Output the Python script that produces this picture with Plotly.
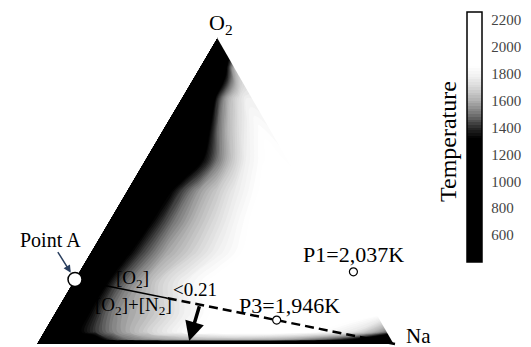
import numpy as np
import plotly.graph_objects as go

# ---------------- data ----------------
# carpet coordinates: a = Na/(Na+N2) across each row, b = O2 mole fraction
A_REL = [0, 0.05, 0.1, 0.15, 0.2, 0.25, 0.3, 0.4, 0.5, 0.6, 0.7, 0.8, 0.9, 1.0]
B_O2 = [0, 0.015, 0.04, 0.1, 0.2, 0.3, 0.4, 0.5, 0.6, 0.7, 0.8, 0.9, 1.0]
# adiabatic temperature (K), rows follow B_O2, columns follow A_REL
TEMP = [
    [600, 600, 620, 650, 700, 720, 740, 760, 760, 760, 740, 720, 680, 600],
    [600, 700, 900, 1200, 1400, 1500, 1550, 1600, 1620, 1620, 1580, 1480, 1300, 900],
    [650, 900, 1300, 1420, 1520, 1600, 1680, 1820, 1900, 1920, 1900, 1850, 1750, 1500],
    [650, 900, 1300, 1450, 1550, 1600, 1650, 1780, 1880, 1950, 1980, 1980, 1950, 1900],
    [650, 900, 1250, 1420, 1520, 1600, 1680, 1800, 1890, 1960, 2000, 2020, 2030, 2040],
    [650, 800, 1050, 1300, 1420, 1500, 1580, 1680, 1780, 1860, 1950, 2000, 2020, 2020],
    [650, 750, 950, 1150, 1320, 1420, 1500, 1620, 1720, 1820, 1900, 1950, 1950, 1920],
    [650, 700, 800, 950, 1150, 1320, 1420, 1560, 1660, 1760, 1840, 1900, 1900, 1880],
    [650, 680, 720, 800, 900, 1000, 1150, 1320, 1500, 1650, 1780, 1850, 1880, 1850],
    [650, 680, 700, 750, 820, 900, 1000, 1250, 1480, 1620, 1720, 1800, 1850, 1820],
    [650, 650, 680, 700, 750, 820, 900, 1150, 1400, 1550, 1650, 1720, 1780, 1780],
    [650, 650, 650, 680, 700, 720, 750, 850, 950, 1100, 1250, 1400, 1550, 1650],
    [650, 650, 650, 650, 650, 650, 650, 650, 650, 650, 650, 650, 650, 650],
]
CBAR_TICKS = [600, 800, 1000, 1200, 1400, 1600, 1800, 2000, 2200]
CBAR_TEXT = ["600", "800", "1000", "1200", "1400", "1600", "1800", "2000", "2200"]

# compositions (Na, O2) of marked points
AIR_LINE_NA = [0.0, 0.29, 1.0]      # Point A (air) -> Na corner
AIR_RATIO = 0.21                    # [O2]/([O2]+[N2]) of air
POINT_A = (0.0, 0.21)
P1 = (0.765, 0.235)
P3 = (0.63, 0.078)
EDGE_NA = [1.0, 0.0]                # Na-O2 edge (no N2)
EDGE_O2 = [0.0, 1.0]

APEX_X = 0.5056  # horizontal position of the O2 corner along the N2-Na base


def to_xy(na, o2):
    na = np.asarray(na, float)
    o2 = np.asarray(o2, float)
    return na + APEX_X * o2, o2


# carpet grid positions
A = np.array(A_REL)
B = np.array(B_O2)
AA, BB = np.meshgrid(A, B)
GX, GY = to_xy(AA * (1 - BB), BB)

SERIF = "Liberation Serif, Times New Roman, serif"
ZMIN, ZMAX = 400, 2260


def pos(t):
    return (t - ZMIN) / (ZMAX - ZMIN)


cscale = [
    [0.0, "#000000"], [pos(1320), "#000000"], [pos(1400), "#2a2a2a"],
    [pos(1500), "#767676"], [pos(1600), "#b0b0b0"], [pos(1700), "#d8d8d8"],
    [pos(1780), "#f0f0f0"], [pos(1840), "#fcfcfc"], [pos(1860), "#ffffff"], [1.0, "#ffffff"],
]

fig = go.Figure()

NONE = "rgba(0,0,0,0)"
hidden_axis = dict(showgrid=False, showline=False, showticklabels="none",
                   startline=False, endline=False, minorgridcount=0,
                   smoothing=0, gridwidth=0, linewidth=0,
                   gridcolor=NONE, linecolor=NONE,
                   startlinecolor=NONE, endlinecolor=NONE,
                   startlinewidth=0, endlinewidth=0)
fig.add_trace(go.Carpet(a=A_REL, b=B_O2, x=GX.tolist(), y=GY.tolist(), carpet="c1",
                        color=NONE, aaxis=hidden_axis, baxis=hidden_axis))
fig.add_trace(go.Contourcarpet(
    carpet="c1", a=A_REL, b=B_O2, z=TEMP,
    colorscale=cscale, zmin=ZMIN, zmax=ZMAX, autocontour=False,
    contours=dict(start=ZMIN, end=ZMAX, size=20, coloring="fill", showlines=False),
    line=dict(width=0, color=NONE),
    colorbar=dict(
        xref="container", yref="container", x=467 / 531, xanchor="left",
        y=1 - 137 / 347, yanchor="middle", lenmode="pixels", len=250,
        thickness=15, xpad=0, ypad=0, outlinecolor="black", outlinewidth=1.5,
        tickmode="array", tickvals=CBAR_TICKS, ticktext=CBAR_TEXT,
        ticks="outside", ticklen=6, tickcolor=NONE,
        tickfont=dict(family=SERIF, size=15, color="#444"),
    ),
))

# the Na-O2 edge is not drawn in the original: hide the anti-aliasing seam
ex, ey = to_xy(EDGE_NA, EDGE_O2)
fig.add_trace(go.Scatter(x=ex, y=ey, mode="lines", line=dict(color="white", width=2.5),
                         hoverinfo="skip"))

# air line: solid part under the fraction, dashed to Na corner
lx, ly = to_xy(AIR_LINE_NA, [AIR_RATIO * (1 - n) for n in AIR_LINE_NA])
fig.add_trace(go.Scatter(x=lx[:2], y=ly[:2], mode="lines",
                         line=dict(color="black", width=1.5), hoverinfo="skip"))
fig.add_trace(go.Scatter(x=lx[1:], y=ly[1:], mode="lines",
                         line=dict(color="black", width=2.5, dash="9px,5px"), hoverinfo="skip"))

ax_, ay_ = to_xy(*POINT_A)
p1x, p1y = to_xy(*P1)
p3x, p3y = to_xy(*P3)
fig.add_trace(go.Scatter(x=[float(ax_)], y=[float(ay_)], mode="markers",
                         marker=dict(size=14, color="white", line=dict(color="black", width=1.5))))
fig.add_trace(go.Scatter(x=[float(p1x), float(p3x)], y=[float(p1y), float(p3y)], mode="markers",
                         marker=dict(size=8, color="white", line=dict(color="black", width=1.2))))

ann = []
ox, oy = to_xy(0, 1)
ann.append(dict(x=float(ox), y=float(oy), text="O<sub>2</sub>", showarrow=False,
                yanchor="bottom", xanchor="center", xshift=3, yshift=-3, font=dict(size=22)))
nx, ny = to_xy(1, 0)
ann.append(dict(x=float(nx), y=float(ny), text="Na", showarrow=False,
                xanchor="left", yanchor="middle", xshift=9, yshift=8, font=dict(size=21)))
ann.append(dict(x=float(ax_), y=float(ay_), text="Point A", showarrow=True,
                ax=-25, ay=-40, arrowhead=2, arrowsize=1, arrowwidth=1.5,
                standoff=8, font=dict(size=20)))
ann.append(dict(x=float(p1x), y=float(p1y), text="P1=2,037K", showarrow=False,
                xanchor="center", yanchor="middle", yshift=17, font=dict(size=22)))
ann.append(dict(x=float(p3x), y=float(p3y), text="P3=1,946K", showarrow=False,
                xanchor="center", yanchor="middle", xshift=13, yshift=15, font=dict(size=22)))
# fraction label on the air line
fx, fy = to_xy(0.18, AIR_RATIO * (1 - 0.18))
ann.append(dict(x=float(fx), y=float(fy), text="[O<sub>2</sub>]", showarrow=False,
                xanchor="center", yanchor="bottom", yshift=-2, font=dict(size=19)))
ann.append(dict(x=float(fx), y=float(fy), text="[O<sub>2</sub>]+[N<sub>2</sub>]", showarrow=False,
                xanchor="center", yanchor="top", xshift=1, yshift=-1, font=dict(size=19)))
ann.append(dict(x=float(fx), y=float(fy), text="&lt;0.21", showarrow=False,
                xanchor="left", yanchor="middle", xshift=38, yshift=2, font=dict(size=19)))
# arrow pointing to the region below the air line
tx, ty = to_xy(0.42, 0.01)
sx, sy = to_xy(0.39, AIR_RATIO * (1 - 0.39))
ann.append(dict(x=float(tx), y=float(ty), ax=float(sx), ay=float(sy), axref="x", ayref="y",
                text="", showarrow=True, arrowhead=2, arrowsize=1.1, arrowwidth=3.5,
                arrowcolor="black", standoff=0))
ann.append(dict(xref="paper", yref="paper", x=448 / 531, y=1 - 142 / 347, text="Temperature",
                xanchor="center", yanchor="middle",
                showarrow=False, textangle=-90, font=dict(size=24)))

fig.update_layout(
    width=531, height=347,
    margin=dict(l=0, r=0, t=0, b=0, autoexpand=False),
    paper_bgcolor="white", plot_bgcolor="white",
    showlegend=False,
    font=dict(family=SERIF, color="black"),
    xaxis=dict(range=[-37 / 358, 494 / 358], visible=False, showgrid=False, zeroline=False),
    yaxis=dict(range=[-3 / 307, 344 / 307], visible=False, showgrid=False, zeroline=False),
    annotations=ann,
)

fig.write_html("out.html")
